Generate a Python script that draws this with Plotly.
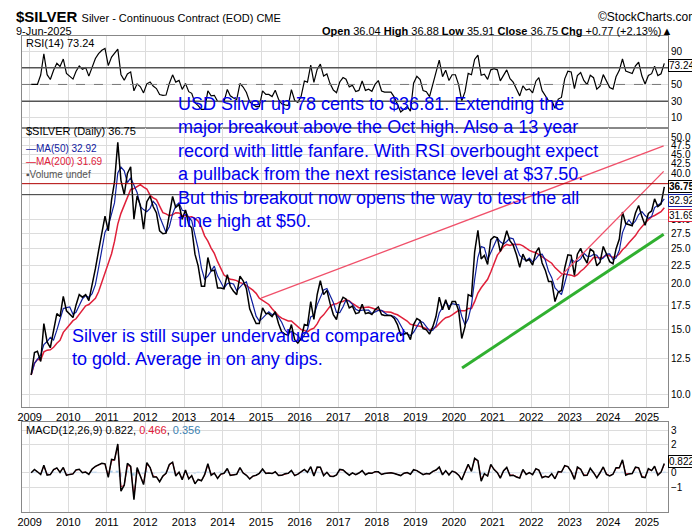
import numpy as np
import pandas as pd
import plotly.graph_objects as go

# monthly closes, Jan 2009 .. Jun 2025
closes = [
    11.3, 13.0, 13.1, 12.3, 15.6, 13.9, 13.4, 14.9, 16.6, 16.3, 18.5, 16.9,
    16.5, 16.2, 17.5, 18.7, 18.4, 18.7, 18.0, 19.7, 22.0, 24.6, 27.8, 30.6,
    27.9, 33.9, 37.9, 48.6, 38.3, 35.0, 40.0, 41.7, 30.0, 34.7, 32.7, 28.2,
    33.5, 34.7, 32.5, 31.2, 27.9, 27.4, 27.5, 31.0, 34.6, 32.3, 32.9, 30.0,
    31.8, 29.0, 28.4, 24.1, 22.4, 19.7, 19.7, 23.6, 21.7, 21.8, 19.5, 19.5,
    19.4, 21.2, 19.7, 19.1, 18.7, 21.0, 20.4, 19.4, 17.1, 16.3, 15.6, 15.6,
    17.2, 16.6, 16.6, 16.3, 16.8, 15.6, 14.8, 14.6, 14.5, 15.5, 14.1, 13.8,
    14.2, 15.5, 15.4, 17.9, 16.0, 18.7, 20.4, 18.7, 19.2, 17.7, 16.5, 16.0,
    17.6, 18.4, 18.2, 17.2, 17.4, 16.6, 16.7, 17.6, 16.6, 16.7, 16.5, 17.0,
    17.3, 16.5, 16.4, 16.4, 16.4, 16.1, 15.5, 14.5, 14.6, 14.7, 14.1, 15.5,
    16.1, 15.9, 15.1, 15.0, 14.6, 15.3, 16.3, 18.4, 17.0, 18.1, 17.0, 17.9,
    17.9, 16.9, 14.2, 15.3, 18.7, 18.5, 24.4, 28.0, 23.4, 23.9, 22.6, 26.4,
    26.9, 26.7, 24.5, 25.9, 27.9, 26.2, 25.5, 24.0, 22.2, 24.1, 23.1, 23.3,
    22.5, 24.4, 25.1, 22.8, 21.8, 20.3, 20.3, 17.9, 19.0, 19.2, 22.1, 24.0,
    23.9, 21.1, 24.1, 25.0, 23.6, 22.8, 24.9, 24.5, 22.4, 22.9, 25.3, 24.1,
    23.0, 22.7, 24.9, 26.5, 31.4, 29.2, 29.0, 28.8, 31.2, 32.7, 30.5, 28.9,
    31.1, 31.6, 34.1, 32.5, 33.0, 36.75,
]
dates = pd.date_range("2009-01-01", periods=len(closes), freq="MS") + pd.Timedelta(days=14)

# trend lines drawn on the chart (date, price)
upper_line = (["2015-01-01", "2025-06-09"], [18.3, 47.5])
channel_line = (["2022-09-01", "2025-06-09"], [20.5, 40.5])
support_line = (["2020-03-18", "2025-06-09"], [11.8, 27.3])
levels = [37.5, 35.0]

# last values shown in the right-hand boxes
last_rsi = 73.24
last_close = 36.75
last_ma50 = 32.92
last_ma200 = 31.69
last_macd = 0.822

price_ticks = [10.0, 12.5, 15.0, 17.5, 20.0, 22.5, 25.0, 27.5, 30.0, 40.0, 42.5, 45.0, 47.5, 50.0]
years = list(range(2009, 2026))

s = pd.Series(closes, index=dates)
ma50 = s.rolling(3, min_periods=1).mean()
ma200 = s.rolling(10, min_periods=1).mean()
d = s.diff()
up = d.clip(lower=0).ewm(alpha=1 / 6, min_periods=1).mean()
dn = (-d.clip(upper=0)).ewm(alpha=1 / 6, min_periods=1).mean()
rsi = (100 - 100 / (1 + up / dn.replace(0, np.nan))).fillna(50)
macd = s.ewm(alpha=0.97).mean() - s.ewm(alpha=0.80).mean()
signal = macd.ewm(alpha=0.9).mean()
hist = macd - signal

fig = go.Figure()
fig.add_trace(go.Scatter(x=dates, y=rsi, mode="lines", line=dict(color="black", width=1.2)))
for lvl in [70, 30]:
    fig.add_hline(y=lvl, line=dict(color="#555", width=1.5), yref="y")
fig.add_hline(y=50, line=dict(color="#777", width=1, dash="dash"), yref="y")

fig.add_trace(go.Scatter(x=dates, y=ma200, mode="lines", line=dict(color="#e0203a", width=1.5), xaxis="x2", yaxis="y2"))
fig.add_trace(go.Scatter(x=dates, y=ma50, mode="lines", line=dict(color="#1020a0", width=1.2), xaxis="x2", yaxis="y2"))
fig.add_trace(go.Scatter(x=dates, y=s, mode="lines", line=dict(color="black", width=1.5), xaxis="x2", yaxis="y2"))
for ln, col, w in [(upper_line, "#f0506a", 1.3), (channel_line, "#f0506a", 1.3), (support_line, "#30b030", 3)]:
    fig.add_trace(go.Scatter(x=ln[0], y=ln[1], mode="lines", line=dict(color=col, width=w), xaxis="x2", yaxis="y2"))
for lvl, col in zip(levels, ["#b00000", "#333"]):
    fig.add_trace(go.Scatter(x=["2008-10-20", "2025-07-20"], y=[lvl, lvl], mode="lines",
                             line=dict(color=col, width=1), xaxis="x2", yaxis="y2"))

fig.add_trace(go.Bar(x=dates, y=hist, marker_color="#9fc7e8", xaxis="x3", yaxis="y3"))
fig.add_trace(go.Scatter(x=dates, y=signal, mode="lines", line=dict(color="#e0203a", width=1), xaxis="x3", yaxis="y3"))
fig.add_trace(go.Scatter(x=dates, y=macd, mode="lines", line=dict(color="black", width=1.5), xaxis="x3", yaxis="y3"))

xr = ["2008-10-20", "2025-07-20"]
xcommon = dict(range=xr, type="date", tickvals=[f"{y}-01-01" for y in years], ticktext=[str(y) for y in years],
               showgrid=True, gridcolor="#dcdcdc", linecolor="#888", mirror=True, ticks="",
               tickfont=dict(size=11, color="black"))
ycommon = dict(side="right", showgrid=True, gridcolor="#dcdcdc", linecolor="#888", mirror=True,
               tickfont=dict(size=10, color="black"), zeroline=False)
fig.update_layout(
    width=700, height=530, paper_bgcolor="white", plot_bgcolor="white", showlegend=False,
    margin=dict(l=10, r=40, t=28, b=25), font=dict(family="Liberation Sans, Arial", size=11),
    xaxis=dict(xcommon, domain=[0, 1], anchor="y", showticklabels=False),
    xaxis2=dict(xcommon, domain=[0, 1], anchor="y2", matches="x"),
    xaxis3=dict(xcommon, domain=[0, 1], anchor="y3", matches="x"),
    yaxis=dict(ycommon, domain=[0.807, 1], range=[-2, 108], tickvals=[10, 30, 50, 90]),
    yaxis2=dict(ycommon, domain=[0.22, 0.807], type="log", range=[0.965, 1.726],
                tickvals=price_ticks, ticktext=[f"{v:.1f}" for v in price_ticks]),
    yaxis3=dict(ycommon, domain=[0, 0.189], range=[-2.75, 3.56], tickvals=[-1, 0, 2, 3]),
    bargap=0,
)

blue = "#0000ee"
fig.add_annotation(xref="paper", yref="paper", x=0.238, y=0.882, xanchor="left", yanchor="top", align="left",
                   showarrow=False, font=dict(size=18, color=blue, family="Liberation Sans, Arial"),
                   text="USD Silver up 78 cents to $36.81. Extending the<br>major breakout above the Oct high. Also a 13 year"
                        "<br>record with little fanfare. With RSI overbought expect<br>a pullback from the next resistance level at $37.50."
                        "<br>But this breakout now opens the way to test the all<br>time high at $50.")
fig.add_annotation(xref="paper", yref="paper", x=0.074, y=0.394, xanchor="left", yanchor="top", align="left",
                   showarrow=False, font=dict(size=18, color=blue, family="Liberation Sans, Arial"),
                   text="Silver is still super undervalued compared<br>to gold. Average in on any dips.")
hdr = [
    (-0.012, 1.04, "<b>$SILVER</b> <span style='font-size:11px'>Silver - Continuous Contract (EOD) CME</span>", 15, "left"),
    (-0.012, 1.01, "9-Jun-2025", 11, "left"),
    (1.01, 1.01, "<b>Open</b> 36.04 <b>High</b> 36.88 <b>Low</b> 35.91 <b>Close</b> 36.75 <b>Chg</b> +0.77 (+2.13%)▲", 11, "right"),
    (1.05, 1.04, "©StockCharts.com", 12, "right"),
    (0.003, 0.985, "RSI(14) 73.24", 11, "left"),
    (0.003, 0.8, "$SILVER (Daily) 36.75", 11, "left"),
    (0.003, 0.172, "MACD(12,26,9) 0.822, <span style='color:#e0203a'>0.466</span>, <span style='color:#3a7fb0'>0.356</span>", 11, "left"),
]
for x, y, t, sz, anc in hdr:
    fig.add_annotation(xref="paper", yref="paper", x=x, y=y, xanchor=anc, yanchor="middle", text=t, showarrow=False,
                       font=dict(size=sz, color="black"), align=anc)
fig.add_annotation(xref="paper", yref="paper", x=0.003, y=0.78, xanchor="left", yanchor="top", showarrow=False,
                   align="left", font=dict(size=10),
                   text="<span style='color:#1020a0'>—MA(50) 32.92</span><br><span style='color:#e0203a'>—MA(200) 31.69</span>"
                        "<br><span style='color:#555'>▪Volume undef</span>")
# right-hand value boxes
for yref, val, txt, col, shift in [("y", last_rsi, f"{last_rsi:.2f}", "black", 0),
                                   ("y2", np.log10(last_close), f"<b>{last_close:.2f}</b>", "black", 0),
                                   ("y2", np.log10(last_ma50), f"{last_ma50:.2f}", "#1020a0", 4),
                                   ("y2", np.log10(last_ma200), f"{last_ma200:.2f}", "#e0203a", -5),
                                   ("y3", last_macd, f"{last_macd:.3f}", "black", 0)]:
    fig.add_annotation(xref="paper", yref=yref, x=1.0, y=val, xanchor="left", yanchor="middle", showarrow=False,
                       text=txt, font=dict(size=10, color="black"), bgcolor="white", bordercolor=col,
                       borderwidth=1, borderpad=0, yshift=shift)
fig.write_html("out.html")
